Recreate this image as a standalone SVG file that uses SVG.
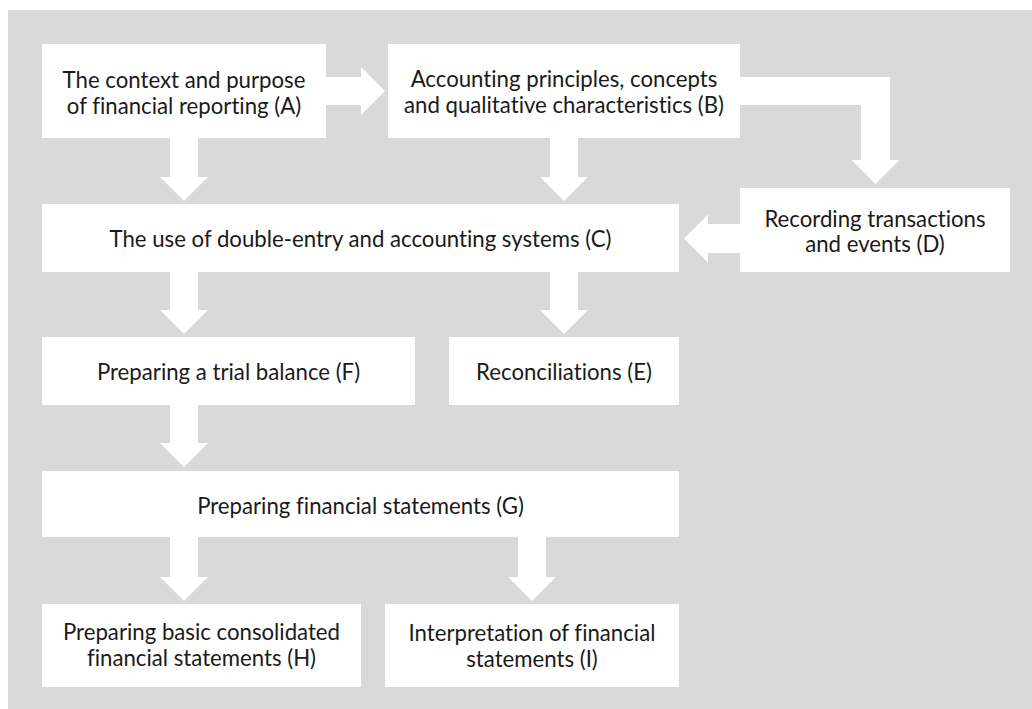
<svg xmlns="http://www.w3.org/2000/svg" width="1032" height="709" viewBox="0 0 1032 709">
<style>
.bg{fill:#d9d9d9}
.box{fill:#ffffff}
.arrow{fill:#ffffff}
.t{font-family:Lato,"Liberation Sans",sans-serif;font-size:22.2px;fill:#1a1a1a;text-anchor:middle;font-variant-ligatures:none;font-feature-settings:"liga" 0,"dlig" 0,"clig" 0}
</style>
<rect width="1032" height="709" fill="#ffffff"/>
<rect class="bg" x="8" y="10" width="1024" height="699"/>
<g id="connectors">
<polygon class="arrow" points="326,77 361,77 361,67 385,91 361,115 361,105 326,105"/>
<polygon class="arrow" points="740,77 890,77 890,160 899.5,160 875.5,184 851.5,160 861,160 861,105 740,105"/>
<polygon class="arrow" points="740,224 708,224 708,214.5 684,238.5 708,262.5 708,253 740,253"/>
<polygon class="arrow" points="170,138 198,138 198,177 208,177 184,201 160,177 170,177"/>
<polygon class="arrow" points="550,138 578,138 578,177 588,177 564,201 540,177 550,177"/>
<polygon class="arrow" points="170,272 198,272 198,310 208,310 184,334 160,310 170,310"/>
<polygon class="arrow" points="550,272 578,272 578,310 588,310 564,334 540,310 550,310"/>
<polygon class="arrow" points="170,405 198,405 198,443 208,443 184,467 160,443 170,443"/>
<polygon class="arrow" points="170,537 198,537 198,577 208,577 184,601 160,577 170,577"/>
<polygon class="arrow" points="518,537 546,537 546,577 556,577 532,601 508,577 518,577"/>
</g>
<g id="nodeA"><rect class="box" x="42" y="44" width="284" height="94"/><text class="t" x="184" y="88">The context and purpose</text><text class="t" x="184" y="113.5">of financial reporting (A)</text></g>
<g id="nodeB"><rect class="box" x="388" y="44" width="352" height="94"/><text class="t" x="564" y="87">Accounting principles, concepts</text><text class="t" x="564" y="113">and qualitative characteristics (B)</text></g>
<g id="nodeC"><rect class="box" x="42" y="204" width="637" height="68"/><text class="t" x="360.5" y="247">The use of double-entry and accounting systems (C)</text></g>
<g id="nodeD"><rect class="box" x="740" y="188" width="270" height="84"/><text class="t" x="875" y="226.5">Recording transactions</text><text class="t" x="875" y="252">and events (D)</text></g>
<g id="nodeF"><rect class="box" x="42" y="337" width="373" height="68"/><text class="t" x="228.5" y="380">Preparing a trial balance (F)</text></g>
<g id="nodeE"><rect class="box" x="449" y="337" width="230" height="68"/><text class="t" x="564" y="379.5">Reconciliations (E)</text></g>
<g id="nodeG"><rect class="box" x="42" y="471" width="637" height="66"/><text class="t" x="360.5" y="513.5">Preparing financial statements (G)</text></g>
<g id="nodeH"><rect class="box" x="42" y="604" width="319" height="83"/><text class="t" x="201.5" y="640">Preparing basic consolidated</text><text class="t" x="201.5" y="666">financial statements (H)</text></g>
<g id="nodeI"><rect class="box" x="385" y="604" width="294" height="83"/><text class="t" x="532" y="640.5">Interpretation of financial</text><text class="t" x="532" y="666.5">statements (I)</text></g>
</svg>
